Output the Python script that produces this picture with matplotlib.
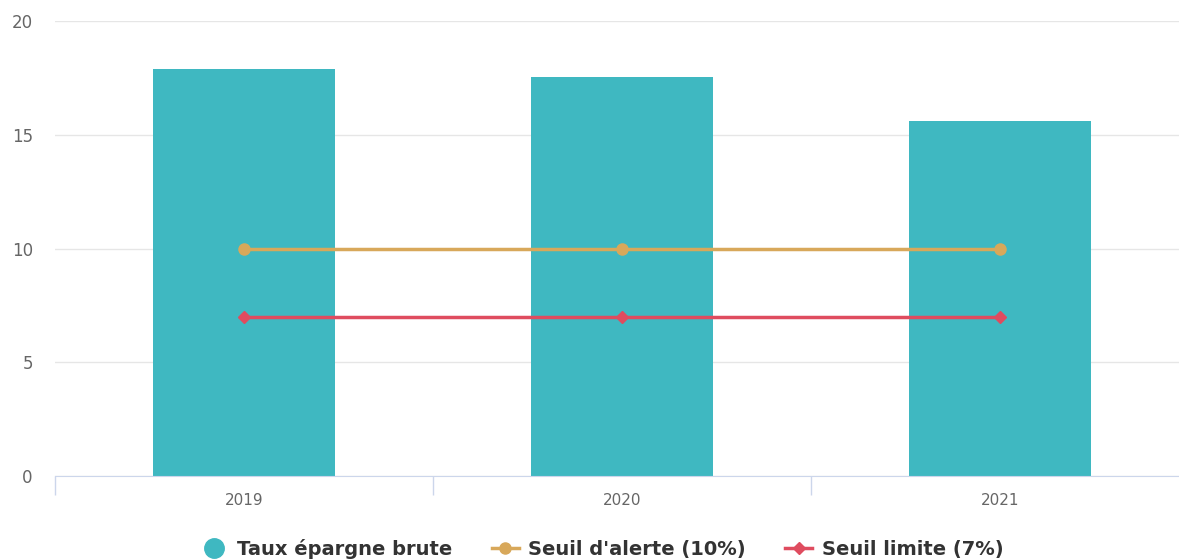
import matplotlib
matplotlib.use("Agg")
import matplotlib.pyplot as plt
from matplotlib.lines import Line2D

years = ["2019", "2020", "2021"]
taux_epargne = [17.9, 17.55, 15.6]
seuil_alerte = [10, 10, 10]
seuil_limite = [7, 7, 7]

teal = "#3fb8c1"
orange = "#d8a85a"
red = "#df4c5f"

plt.rcParams["font.family"] = ["DejaVu Sans"]

fig = plt.figure(figsize=(11.79, 5.6), dpi=100)
ax = fig.add_axes([55 / 1179, 84 / 560, 1134 / 1179, (476 - 21) / 560])

x = list(range(len(years)))
ax.bar(x, taux_epargne, width=0.48, color=teal, zorder=2)
ax.plot(x, seuil_alerte, color=orange, lw=2.5, marker="o", ms=8, zorder=3)
ax.plot(x, seuil_limite, color=red, lw=2.5, marker="D", ms=6, zorder=3)

ax.set_xlim(-0.5, 2.5)
ax.set_ylim(0, 20)
ax.set_yticks([0, 5, 10, 15, 20])
ax.grid(axis="y", color="#e6e6e6", lw=1, zorder=0)
ax.set_xticks(x)
ax.set_xticklabels(years)
ax.set_xticks([-0.5, 0.5, 1.5, 2.5], minor=True)
ax.tick_params(axis="x", which="major", length=0, pad=12, labelsize=11, labelcolor="#666666")
ax.tick_params(axis="x", which="minor", length=14, color="#ccd6eb", width=1)
ax.tick_params(axis="y", length=0, pad=16, labelsize=12, labelcolor="#666666")
for s in ["top", "right", "left"]:
    ax.spines[s].set_visible(False)
ax.spines["bottom"].set_color("#ccd6eb")

handles = [
    Line2D([], [], ls="none", marker="o", ms=14, color=teal),
    Line2D([], [], color=orange, lw=2.5, marker="o", ms=8),
    Line2D([], [], color=red, lw=2.5, marker="D", ms=6),
]
labels = ["Taux épargne brute", "Seuil d'alerte (10%)", "Seuil limite (7%)"]
fig.legend(handles, labels, loc="center", bbox_to_anchor=(602 / 1179, 1 - 549 / 560),
           ncol=3, frameon=False, handlelength=1.4, columnspacing=2.0, handletextpad=0.5,
           prop={"size": 14, "weight": "bold"}, labelcolor="#333333")

fig.savefig("out.png", dpi=100)
